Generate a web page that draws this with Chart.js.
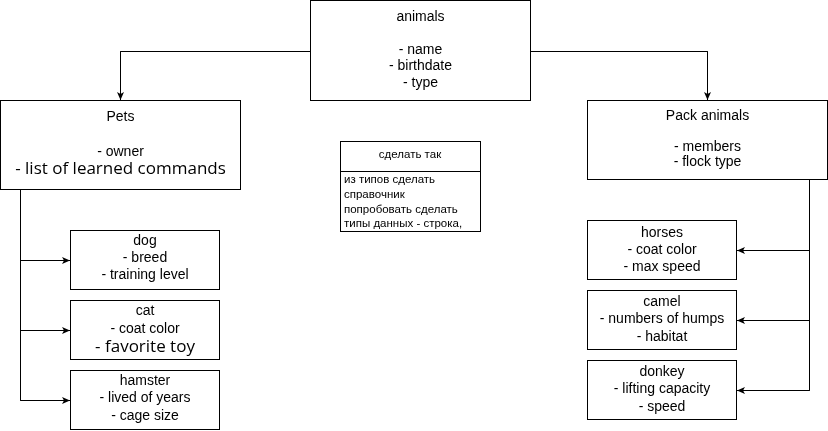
<!DOCTYPE html>
<html>
<head>
<meta charset="utf-8">
<script src="https://cdn.jsdelivr.net/npm/chart.js@4"></script>
<style>
  html, body { margin: 0; padding: 0; background: #fff; }
  #wrap { width: 828px; height: 431px; }
</style>
</head>
<body>
<div id="wrap"><canvas id="diagram"></canvas></div>
<script>
// box titles and field lists
var titles = ["animals", "Pets", "Pack animals", "dog", "cat", "hamster", "horses", "camel", "donkey"];
var fields = [
  ["", "- name", "- birthdate", "- type"],
  ["", "- owner", "- list of learned commands"],
  ["", "- members", "- flock type"],
  ["- breed", "- training level"],
  ["- coat color", "- favorite toy"],
  ["- lived of years", "- cage size"],
  ["- coat color", "- max speed"],
  ["- numbers of humps", "- habitat"],
  ["- lifting capacity", "- speed"]
];
var noteTitle = "сделать так";
var noteLines = ["из типов сделать", "справочник", "попробовать сделать", "типы данных - строка,"];

// layout: [x1, y1, x2, y2, first line y, line step]
var boxes = [
  [310, 0, 531, 101, 17, 16.5],
  [0, 100, 241, 190, 117, 17.5],
  [587, 100, 828, 180, 116, 15.5],
  [70, 230, 220, 290, 241, 17],
  [70, 300, 220, 360, 311, 18],
  [70, 370, 220, 430, 381, 17.5],
  [587, 220, 737, 280, 233, 17],
  [587, 290, 737, 350, 302, 17.5],
  [587, 360, 737, 420, 372, 17.5]
];
var bigLines = ["- list of learned commands", "- favorite toy"];

// connectors (last point gets an arrowhead)
var links = [
  [[310, 51.5], [120.5, 51.5], [120.5, 100]],
  [[531, 51.5], [707.5, 51.5], [707.5, 100]],
  [[20.5, 190], [20.5, 400.5], [70, 400.5]],
  [[20.5, 260.5], [70, 260.5]],
  [[20.5, 330.5], [70, 330.5]],
  [[809.5, 180], [809.5, 390.5], [737, 390.5]],
  [[809.5, 250.5], [737, 250.5]],
  [[809.5, 320.5], [737, 320.5]]
];

var datasets = links.map(function (pts) {
  return {
    data: pts.map(function (p) { return { x: p[0], y: p[1] }; }),
    showLine: true, borderColor: "#000", borderWidth: 1,
    pointRadius: 0, fill: false, tension: 0
  };
});

var boxPlugin = {
  id: "boxes",
  afterDatasetsDraw: function (chart) {
    var c = chart.ctx, sx = chart.scales.x, sy = chart.scales.y;
    function X(v) { return sx.getPixelForValue(v); }
    function Y(v) { return sy.getPixelForValue(v); }
    c.save();
    c.strokeStyle = "#000"; c.lineWidth = 1; c.fillStyle = "#000";
    // arrowheads
    links.forEach(function (pts) {
      var a = pts[pts.length - 2], b = pts[pts.length - 1];
      var ang = Math.atan2(Y(b[1]) - Y(a[1]), X(b[0]) - X(a[0]));
      var tx = X(b[0]), ty = Y(b[1]);
      c.beginPath();
      c.moveTo(tx, ty);
      c.lineTo(tx - 8 * Math.cos(ang) + 3.5 * Math.sin(ang), ty - 8 * Math.sin(ang) - 3.5 * Math.cos(ang));
      c.lineTo(tx - 6 * Math.cos(ang), ty - 6 * Math.sin(ang));
      c.lineTo(tx - 8 * Math.cos(ang) - 3.5 * Math.sin(ang), ty - 8 * Math.sin(ang) + 3.5 * Math.cos(ang));
      c.closePath(); c.fill();
    });
    // boxes
    c.textAlign = "center"; c.textBaseline = "middle";
    boxes.forEach(function (b, i) {
      var x1 = X(b[0]), y1 = Y(b[1]), x2 = X(b[2]), y2 = Y(b[3]);
      c.fillStyle = "#fff";
      c.fillRect(x1, y1, x2 - x1, y2 - y1);
      c.strokeRect(Math.round(x1) + 0.5, Math.round(y1) + 0.5, Math.round(x2 - x1) - 1, Math.round(y2 - y1) - 1);
      c.fillStyle = "#000";
      var cx = (x1 + x2) / 2;
      var lines = [titles[i]].concat(fields[i]);
      lines.forEach(function (t, k) {
        var big = bigLines.indexOf(t) >= 0;
        c.font = big ? "17px 'Open Sans', sans-serif" : "14px 'Liberation Sans', sans-serif";
        c.fillText(t, cx, Y(b[4] + k * b[5]));
      });
    });
    // note box
    var nx1 = X(340), ny1 = Y(141), nx2 = X(480), ny2 = Y(231), nh = Y(171);
    c.strokeRect(Math.round(nx1) + 0.5, Math.round(ny1) + 0.5, Math.round(nx2 - nx1), Math.round(ny2 - ny1));
    c.beginPath(); c.moveTo(nx1, Math.round(nh) + 0.5); c.lineTo(nx2, Math.round(nh) + 0.5); c.stroke();
    c.font = "11.5px 'Liberation Sans', sans-serif";
    c.fillText(noteTitle, (nx1 + nx2) / 2, Y(155));
    c.textAlign = "left";
    noteLines.forEach(function (t, k) { c.fillText(t, X(344), Y(180 + k * 14.7)); });
    c.restore();
  }
};

new Chart(document.getElementById("diagram"), {
  type: "scatter",
  data: { datasets: datasets },
  options: {
    responsive: true, maintainAspectRatio: false, animation: false,
    layout: { padding: 0 },
    plugins: { legend: { display: false }, tooltip: { enabled: false } },
    scales: {
      x: { type: "linear", min: 0, max: 828, display: false },
      y: { type: "linear", min: 0, max: 431, reverse: true, display: false }
    }
  },
  plugins: [boxPlugin]
});
</script>
</body>
</html>
